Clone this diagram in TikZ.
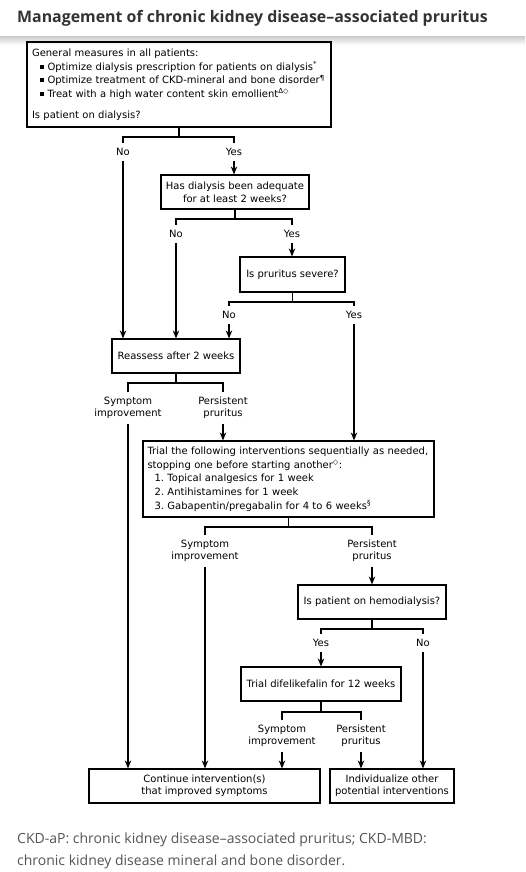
\documentclass[tikz,border=0pt]{standalone}
\usepackage{fontspec}
\setmainfont{DejaVu Sans}
\newfontfamily\opensans{Open Sans}
\usetikzlibrary{arrows.meta,calc}
\definecolor{titlegray}{RGB}{51,51,51}
\definecolor{notegray}{RGB}{85,85,85}
\newcommand\dfont{\fontsize{10}{13.7}\selectfont}
\newcommand\lfont{\fontsize{10}{12}\selectfont}
\newcommand\bul{\rule[1.5pt]{4pt}{4pt}\hspace{3.5pt}}
\newcommand\sups[1]{\textsuperscript{#1}}
\begin{document}
\begin{tikzpicture}[x=1pt,y=-1pt,
  box/.style={draw, line width=1.2pt, inner sep=0pt, align=center, font=\dfont},
  lab/.style={inner xsep=0pt, inner ysep=5pt, align=center, font=\lfont},
  conn/.style={line width=1.2pt},
  arr/.style={line width=1.2pt,-{Stealth[length=8pt,width=6.5pt]}}]
\useasboundingbox (0,0) rectangle (525,872);
\fill[white] (0,0) rectangle (525,872);
\shade[top color=black!18, bottom color=white] (0,37) rectangle (525,45);
\node[anchor=west, font=\opensans\bfseries\fontsize{15.9}{18}\selectfont, text=titlegray, inner sep=0pt] (title) at (17,18) {Management of chronic kidney disease–associated pruritus};

% boxes
\node[box, minimum width=304pt, minimum height=85pt, inner xsep=5pt, text width=294pt, align=left] (b1) at (179,84.5) {General measures in all patients:\\
\hspace*{8pt}\bul Optimize dialysis prescription for patients on dialysis\sups{*}\\
\hspace*{8pt}\bul Optimize treatment of CKD-mineral and bone disorder\sups{¶}\\
\hspace*{8pt}\bul Treat with a high water content skin emollient\sups{Δ◇}\\[7pt]
Is patient on dialysis?};
\node[box, minimum width=148pt, minimum height=34pt, font=\fontsize{10}{13}\selectfont] (b2) at (235,192) {Has dialysis been adequate\\for at least 2 weeks?};
\node[box, minimum width=105pt, minimum height=35pt] (b3) at (292.5,274.5) {Is pruritus severe?};
\node[box, minimum width=128pt, minimum height=34pt] (b4) at (176,356) {Reassess after 2 weeks};
\node[box, minimum width=291pt, minimum height=76pt, inner xsep=4.5pt, text width=282pt, align=left] (b5) at (288.5,479) {Trial the following interventions sequentially as needed,\\
stopping one before starting another\sups{◇}:\\
\hspace*{7pt}\makebox[13pt][l]{1.}Topical analgesics for 1 week\\
\hspace*{7pt}\makebox[13pt][l]{2.}Antihistamines for 1 week\\
\hspace*{7pt}\makebox[13pt][l]{3.}Gabapentin/pregabalin for 4 to 6 weeks\sups{§}};
\node[box, minimum width=148pt, minimum height=34pt] (b6) at (372,602) {Is patient on hemodialysis?};
\node[box, minimum width=160pt, minimum height=34pt] (b7) at (321,684) {Trial difelikefalin for 12 weeks};
\node[box, minimum width=231pt, minimum height=34pt, font=\lfont] (b8) at (204.5,786) {Continue intervention(s)\\that improved symptoms};
\node[box, minimum width=124pt, minimum height=34pt, font=\lfont] (b9) at (392,786) {Individualize other\\potential interventions};

% labels
\node[lab] (no1) at (123,152) {No};
\node[lab] (yes1) at (234,152) {Yes};
\node[lab] (no2) at (176,234) {No};
\node[lab] (yes2) at (292,234) {Yes};
\node[lab] (no3) at (229,315) {No};
\node[lab] (yes3) at (354,315) {Yes};
\node[lab] (sym1) at (128,408) {Symptom\\improvement};
\node[lab] (per1) at (223,408) {Persistent\\pruritus};
\node[lab] (sym2) at (205,551) {Symptom\\improvement};
\node[lab] (per2) at (372,551) {Persistent\\pruritus};
\node[lab] (yes4) at (321,643) {Yes};
\node[lab] (no4) at (423,643) {No};
\node[lab] (sym3) at (282,736) {Symptom\\improvement};
\node[lab] (per3) at (361,736) {Persistent\\pruritus};

% junctions
\coordinate (j1) at (179,137);
\coordinate (j2) at (235,219);
\coordinate (j3) at (292.5,302);
\coordinate (j4) at (176,383);
\coordinate (j5) at (288.5,527);
\coordinate (j6) at (372,629);
\coordinate (j7) at (321,712);

\draw[conn] (b1.south) -- (j1);
\draw[conn] (no1.north) |- (j1) -| (yes1.north);
\draw[conn] (b2.south) -- (j2);
\draw[conn] (no2.north) |- (j2) -| (yes2.north);
\draw[conn] (b3.south) -- (j3);
\draw[conn] (no3.north) |- (j3) -| (yes3.north);
\draw[conn] (b4.south) -- (j4);
\draw[conn] (sym1.north) |- (j4) -| (per1.north);
\draw[conn] (b5.south) -- (j5);
\draw[conn] (sym2.north) |- (j5) -| (per2.north);
\draw[conn] (b6.south) -- (j6);
\draw[conn] (yes4.north) |- (j6) -| (no4.north);
\draw[conn] (b7.south) -- (j7);
\draw[conn] (sym3.north) |- (j7) -| (per3.north);

% arrows
\draw[arr] (yes1.south) -- (yes1.south |- b2.north);
\draw[arr] (yes2.south) -- (yes2.south |- b3.north);
\draw[arr] (no1.south) -- (no1.south |- b4.north);
\draw[arr] (no2.south) -- (no2.south |- b4.north);
\draw[arr] (no3.south) -- (no3.south |- b4.north);
\draw[arr] (yes3.south) -- (yes3.south |- b5.north);
\draw[arr] (per1.south) -- (per1.south |- b5.north);
\draw[arr] (sym1.south) -- (sym1.south |- b8.north);
\draw[arr] (sym2.south) -- (sym2.south |- b8.north);
\draw[arr] (per2.south) -- (per2.south |- b6.north);
\draw[arr] (yes4.south) -- (yes4.south |- b7.north);
\draw[arr] (no4.south) -- (no4.south |- b9.north);
\draw[arr] (sym3.south) -- (sym3.south |- b8.north);
\draw[arr] (per3.south) -- (per3.south |- b9.north);

\node[anchor=west, font=\opensans\fontsize{14}{21.5}\selectfont, text=notegray, align=left, inner sep=0pt] (note) at (17,851) {CKD-aP: chronic kidney disease–associated pruritus; CKD-MBD:\\chronic kidney disease mineral and bone disorder.};
\end{tikzpicture}
\end{document}
